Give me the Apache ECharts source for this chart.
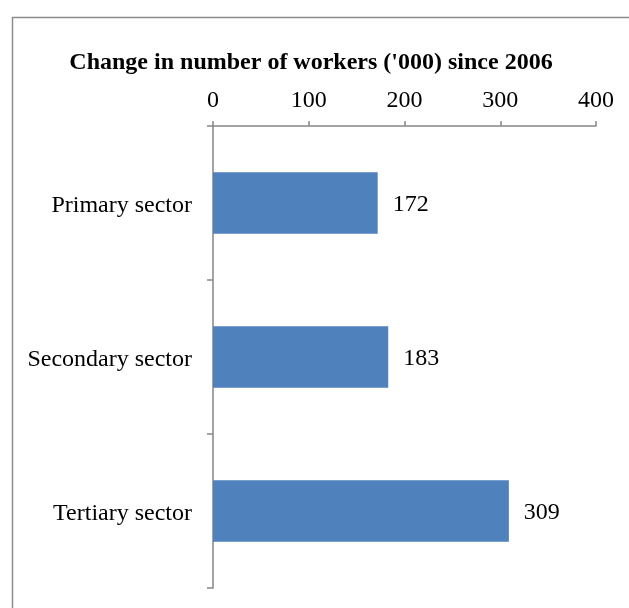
<!DOCTYPE html>
<html>
<head>
<meta charset="utf-8">
<script src="https://cdn.jsdelivr.net/npm/echarts@6/dist/echarts.min.js"></script>
<style>
  html, body { margin: 0; padding: 0; background: #fff; }
  #chart { width: 629px; height: 608px; }
</style>
</head>
<body>
<div id="chart"></div>
<script>
// Employment change by sector, thousands of workers since 2006
const titleText = "Change in number of workers ('000) since 2006";
const sectors = ['Primary sector', 'Secondary sector', 'Tertiary sector'];
const workerChange = [172, 183, 309];
const axisMin = 0;
const axisMax = 400;
const axisStep = 100;

const serif = '"Liberation Serif", "Times New Roman", serif';
const axisGray = '#868686';

const chart = echarts.init(document.getElementById('chart'), null, { renderer: 'canvas' });

chart.setOption({
  animation: false,
  backgroundColor: '#ffffff',
  graphic: [{
    type: 'rect',
    left: 10,
    top: 15,
    shape: { width: 700, height: 700 },
    style: { fill: 'none', stroke: '#8c8c8c', lineWidth: 1.5 },
    silent: true
  }],
  title: {
    text: titleText,
    left: 306,
    top: 46,
    textAlign: 'center',
    textStyle: {
      fontFamily: serif,
      fontWeight: 'bold',
      fontSize: 24,
      color: '#000'
    }
  },
  grid: {
    left: 213,
    right: 33,
    top: 126,
    bottom: 20,
    containLabel: false
  },
  xAxis: {
    type: 'value',
    position: 'top',
    min: axisMin,
    max: axisMax,
    interval: axisStep,
    axisLine: { show: true, lineStyle: { color: axisGray, width: 1.5 } },
    axisTick: { show: true, length: 5, lineStyle: { color: axisGray, width: 1.5 } },
    splitLine: { show: false },
    axisLabel: {
      margin: 13,
      fontFamily: serif,
      fontSize: 24,
      color: '#000'
    }
  },
  yAxis: {
    type: 'category',
    data: sectors,
    inverse: true,
    axisLine: { show: true, lineStyle: { color: axisGray, width: 1.5 } },
    axisTick: { show: true, length: 6, lineStyle: { color: axisGray, width: 1.5 } },
    axisLabel: {
      margin: 21,
      verticalAlign: 'top',
      lineHeight: 5,
      fontFamily: serif,
      fontSize: 24,
      color: '#000'
    }
  },
  series: [{
    type: 'bar',
    data: workerChange,
    barCategoryGap: '60%',
    itemStyle: { color: '#4f81bd' },
    label: {
      show: true,
      position: 'right',
      distance: 15,
      offset: [0, 2],
      fontFamily: serif,
      fontSize: 24,
      color: '#000'
    }
  }]
});
</script>
</body>
</html>
